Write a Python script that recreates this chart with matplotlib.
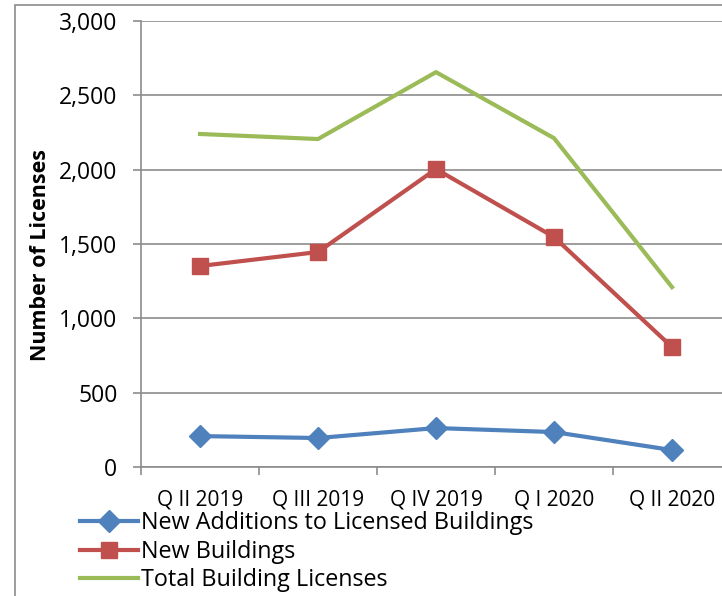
import matplotlib
matplotlib.use("Agg")
import matplotlib.pyplot as plt
from matplotlib.patches import Rectangle
from matplotlib.ticker import FuncFormatter, FixedLocator

# data
quarters = ["Q II 2019", "Q III 2019", "Q IV 2019", "Q I 2020", "Q II 2020"]
new_additions = [208, 195, 262, 235, 114]
new_buildings = [1352, 1446, 2004, 1547, 807]
total_licenses = [2240, 2206, 2656, 2212, 1210]

plt.rcParams['font.family'] = ['Open Sans', 'DejaVu Sans']

fig = plt.figure(figsize=(7.22, 5.96), dpi=100)
# chart area frame (cut off on the right / bottom like the original)
fig.patches.append(Rectangle((15 / 722, -0.1), 2, 1.1 - 5 / 596, transform=fig.transFigure,
                             fill=False, edgecolor='#8c8c8c', linewidth=1.2))

ax = fig.add_axes([141 / 722, 1 - 467 / 596, 590 / 722, 446 / 596])

x = list(range(len(quarters)))
ax.plot(x, new_additions, color='#4F81BD', lw=3, marker='D', ms=11,
        label='New Additions to Licensed Buildings')
ax.plot(x, new_buildings, color='#C0504D', lw=3, marker='s', ms=12,
        label='New Buildings')
ax.plot(x, total_licenses, color='#9BBB59', lw=3,
        label='Total Building Licenses')

ax.set_xlim(-0.5, len(quarters) - 0.5)
ax.set_ylim(0, 3000)
ax.set_yticks(range(0, 3001, 500))
ax.yaxis.set_major_formatter(FuncFormatter(lambda v, p: f"{int(v):,}"))
ax.grid(axis='y', color='#8c8c8c', lw=1.2)
ax.set_axisbelow(True)

ax.set_xticks(x)
ax.set_xticklabels(quarters)
ax.xaxis.set_minor_locator(FixedLocator([i - 0.5 for i in range(len(quarters) + 1)]))
ax.tick_params(axis='x', which='major', length=0, pad=16, labelsize=15)
ax.tick_params(axis='x', which='minor', length=6, color='#8c8c8c', width=1.2)
ax.tick_params(axis='y', length=6, color='#8c8c8c', width=1.2, labelsize=16.5, pad=11)

for s in ['top', 'right']:
    ax.spines[s].set_visible(False)
for s in ['left', 'bottom']:
    ax.spines[s].set_color('#8c8c8c')
    ax.spines[s].set_linewidth(1.2)

ax.set_ylabel('Number of Licenses', fontsize=15.5, fontweight='bold')
ax.yaxis.set_label_coords(-90 / 590, 0.475)

fig.legend(loc='upper left', bbox_to_anchor=(80 / 722, 1 - 511 / 596), frameon=False,
           fontsize=16.8, handlelength=2.5, handletextpad=0.1, labelspacing=0.2,
           borderaxespad=0, borderpad=0)

fig.savefig('out.png', dpi=100)
